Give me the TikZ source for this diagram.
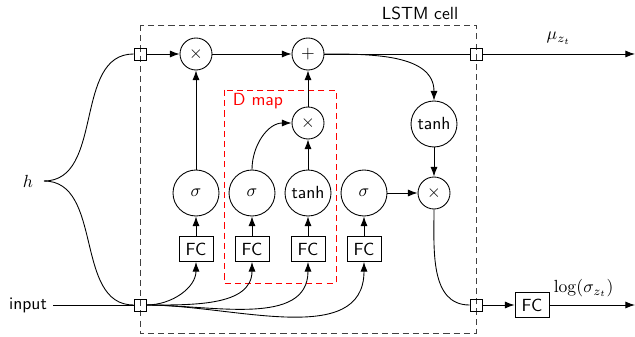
\documentclass[tikz,border=0pt]{standalone}
\usetikzlibrary{arrows.meta}
\tikzset{
  op/.style={draw, circle, inner sep=0pt, minimum size=0.64cm},
  gate/.style={draw, circle, inner sep=0pt, minimum size=0.92cm},
  fc/.style={draw, inner sep=0pt, minimum width=0.68cm, minimum height=0.5cm},
  port/.style={draw, inner sep=0pt, minimum size=0.24cm},
  frame/.style={thin, dash pattern=on 3.5pt off 2.3pt},
}
\begin{document}
\begin{tikzpicture}[x=0.02cm, y=-0.02cm, >={Latex[length=5.5pt,width=4pt]}, line width=0.5pt, font=\sffamily]
  \useasboundingbox (0,0) rectangle (635,337);
  % frames
  \draw[frame, black!75] (140,25) rectangle (476,333);
  \node at (420,13) {LSTM cell};
  \draw[frame, red] (224,90) rectangle (336,283);
  \node[red] at (258,101) {D map};
  % inputs and ports
  \node (hl) at (28,181) {$h$};
  \coordinate (hb) at (44,181);
  \node (in) at (28,305) {input};
  \node[port] (ph) at (140,54) {};
  \node[port] (pin) at (140,305) {};
  \node[port] (pc) at (476,54) {};
  \node[port] (pout) at (476,305) {};
  \coordinate (muend) at (635,54);
  \coordinate (sigend) at (635,305);
  % operations
  \node[op] (m1) at (196,54) {$\times$};
  \node[op] (add) at (308,54) {$+$};
  \node[op] (m2) at (308,123) {$\times$};
  \node[gate] (tr) at (434,124) {tanh};
  \node[op] (m3) at (434,193) {$\times$};
  \node[gate] (s1) at (196,193) {$\sigma$};
  \node[gate] (s2) at (252,193) {$\sigma$};
  \node[gate] (t1) at (308,193) {tanh};
  \node[gate] (s3) at (364,193) {$\sigma$};
  \node[fc] (f1) at (196,249) {FC};
  \node[fc] (f2) at (252,249) {FC};
  \node[fc] (f3) at (308,249) {FC};
  \node[fc] (f4) at (364,249) {FC};
  \node[fc] (fo) at (532,305) {FC};
  % connections
  \draw (hb) to[out=0, in=180] (ph.west);
  \draw (hb) to[out=0, in=180] (pin.west);
  \draw (in) -- (pin);
  \draw[->] (ph) -- (m1);
  \draw[->] (m1) -- (add);
  \draw (add) -- (pc);
  \draw[->] (pc) -- (muend) node[midway, above=2pt] {$\mu_{z_t}$};
  \draw[->] (add.east) to[out=0, in=90] (tr.north);
  \draw[->] (tr) -- (m3);
  \draw[->] (s3) -- (m3);
  \draw (m3.south) to[out=-90, in=180] (pout.west);
  \draw[->] (pout) -- (fo);
  \draw[->] (fo) -- (sigend) node[pos=0.4, above=1pt] {\rmfamily$\log(\sigma_{z_t})$};
  \draw[->] (s1) -- (m1);
  \draw[->] (s2.north) to[out=90, in=180] (m2.west);
  \draw[->] (t1) -- (m2);
  \draw[->] (m2) -- (add);
  \foreach \f/\g in {f1/s1, f2/s2, f3/t1, f4/s3} {
    \draw[->] (\f) -- (\g);
    \draw[->] (pin.east) to[out=0, in=-90] (\f.south);
  }
\end{tikzpicture}
\end{document}
